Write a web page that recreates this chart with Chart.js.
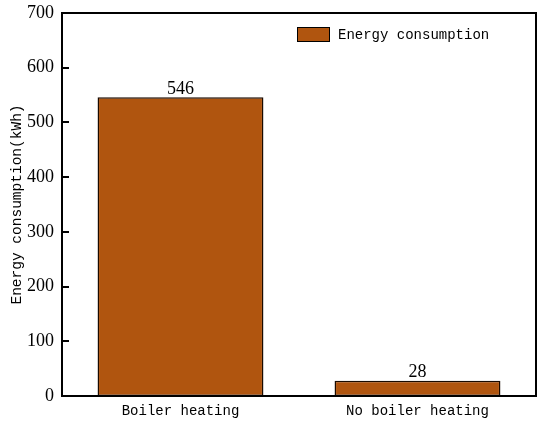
<!DOCTYPE html>
<html>
<head>
<meta charset="utf-8">
<script src="https://cdn.jsdelivr.net/npm/chart.js@4"></script>
<style>
  html, body { margin: 0; padding: 0; background: #fff; }
  #wrap { width: 550px; height: 428px; }
</style>
</head>
<body>
<div id="wrap"><canvas id="energyChart" width="550" height="428"></canvas></div>
<script>
// ── Data ───────────────────────────────────────
const categories = ['Boiler heating', 'No boiler heating'];
const energyValues = [546, 28];
const seriesName = 'Energy consumption';
const yTicks = [0, 100, 200, 300, 400, 500, 600, 700];

const BAR_COLOR = '#B0550F';
const SERIF = "'Liberation Serif', 'Times New Roman', serif";
const MONO = "'Liberation Mono', 'DejaVu Sans Mono', monospace";

// ── Frame, inside ticks, value labels, legend ─
const decorations = {
    id: 'decorations',
    afterDatasetsDraw(chart) {
        const ctx = chart.ctx;
        const a = chart.chartArea;
        const y = chart.scales.y;
        ctx.save();
        ctx.strokeStyle = '#000';
        ctx.lineWidth = 2;
        ctx.strokeRect(a.left, a.top, a.right - a.left, a.bottom - a.top);

        // inside ticks on left axis
        y.ticks.forEach(t => {
            const py = Math.round(y.getPixelForValue(t.value));
            ctx.beginPath();
            ctx.moveTo(a.left, py);
            ctx.lineTo(a.left + 7, py);
            ctx.stroke();
        });

        // value labels above bars
        ctx.fillStyle = '#000';
        ctx.font = '18px ' + SERIF;
        ctx.textAlign = 'center';
        ctx.textBaseline = 'bottom';
        const meta = chart.getDatasetMeta(0);
        meta.data.forEach((bar, i) => {
            ctx.fillText(String(energyValues[i]), bar.x, bar.y + 1);
        });

        // legend
        const lx = a.left + 235, ly = a.top + 14;
        ctx.fillStyle = BAR_COLOR;
        ctx.fillRect(lx, ly, 33, 15);
        ctx.lineWidth = 1;
        ctx.strokeRect(lx + 0.5, ly + 0.5, 32, 14);
        ctx.fillStyle = '#000';
        ctx.font = '14px ' + MONO;
        ctx.textAlign = 'left';
        ctx.textBaseline = 'middle';
        ctx.fillText(chart.data.datasets[0].label, lx + 41, ly + 8);
        ctx.restore();
    }
};

// ── Chart ──────────────────────────────────────
new Chart(document.getElementById('energyChart'), {
    type: 'bar',
    data: {
        labels: categories,
        datasets: [{
            label: seriesName,
            data: energyValues,
            backgroundColor: BAR_COLOR,
            borderColor: '#1a0a00',
            borderWidth: 1.5,
            borderSkipped: false,
            categoryPercentage: 1,
            barPercentage: 0.70
        }]
    },
    options: {
        responsive: false,
        animation: false,
        devicePixelRatio: 1,
        layout: { padding: { top: 13, right: 14, left: 0, bottom: 0 } },
        plugins: {
            legend: { display: false },
            tooltip: { enabled: false }
        },
        scales: {
            x: {
                grid: { display: false, drawTicks: false },
                border: { display: false },
                ticks: { color: '#000', font: { family: MONO, size: 14 }, padding: 7 },
                afterFit: s => { s.height = 32; s.paddingLeft = 0; s.paddingRight = 0; }
            },
            y: {
                min: 0, max: 700,
                afterBuildTicks: s => { s.ticks = yTicks.map(v => ({ value: v })); },
                grid: { display: false, drawTicks: false },
                border: { display: false },
                ticks: { color: '#000', font: { family: SERIF, size: 18 }, padding: 8 },
                title: {
                    display: true,
                    text: 'Energy consumption(kWh)',
                    color: '#000',
                    font: { family: MONO, size: 14.5 },
                    padding: { top: 8, bottom: 0 }
                },
                afterFit: s => { s.width = 62; s.paddingTop = 0; s.paddingBottom = 0; }
            }
        }
    },
    plugins: [decorations]
});
</script>
</body>
</html>
